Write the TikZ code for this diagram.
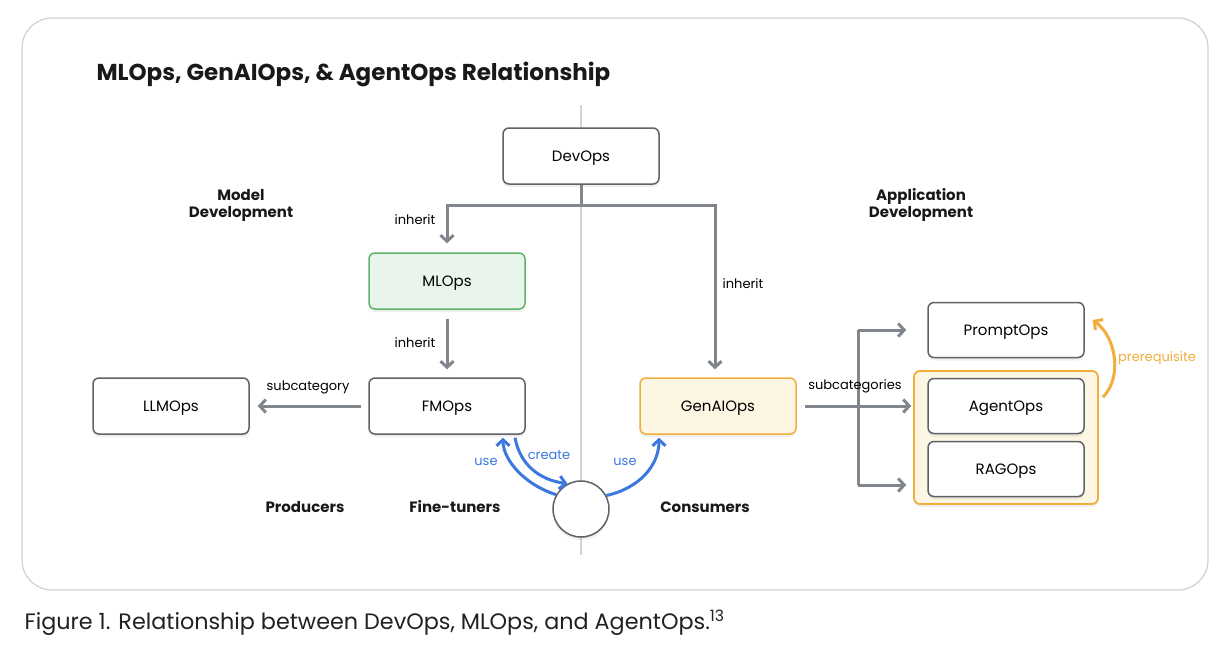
\documentclass[tikz,border=0pt]{standalone}
\usepackage{fontspec}
\setmainfont{Poppins}
\usetikzlibrary{arrows.meta,shadows,positioning}
\definecolor{bord}{HTML}{5F6368}
\definecolor{conn}{HTML}{80868B}
\definecolor{gblue}{HTML}{3C78E0}
\definecolor{gorange}{HTML}{F2AE3D}
\definecolor{ggreen}{HTML}{5DB56B}
\definecolor{gfill}{HTML}{E9F4EB}
\definecolor{yfill}{HTML}{FDF6E3}
\definecolor{frame}{HTML}{D0D0D0}
\definecolor{vline}{HTML}{D3D3D3}
\definecolor{captxt}{HTML}{202124}
\begin{document}
\begin{tikzpicture}[x=1pt,y=-1pt,
  box/.style={draw=bord,line width=1.5pt,rounded corners=6pt,fill=white,
    minimum width=156pt,minimum height=56pt,font=\fontsize{15}{18}\selectfont,text depth=0pt,
    drop shadow={opacity=0.12,shadow xshift=0pt,shadow yshift=-3pt}},
  cn/.style={draw=conn,line width=3pt},
  tip/.style={-{Straight Barb[length=6pt,width=13pt]}},
  lab/.style={font=\fontsize{13}{16}\selectfont,text=black},
  grp/.style={font=\fontsize{15}{17}\selectfont\bfseries,align=center,text=black!90},
  bl/.style={draw=gblue,line width=3pt,-{Straight Barb[length=6pt,width=13pt]}},
  bll/.style={font=\fontsize{13}{16}\selectfont,text=gblue},
]
\useasboundingbox (0,0) rectangle (1230,654);
\fill[white] (0,0) rectangle (1230,654);
\draw[frame,line width=1.2pt,rounded corners=30pt] (22,18) rectangle (1208,590);
\node[anchor=base west,font=\fontsize{23}{26}\selectfont\bfseries,text=black!90] (title) at (93,80) {MLOps, GenAIOps, \& AgentOps Relationship};
\node[anchor=base west,font=\fontsize{22.3}{25}\selectfont,text=captxt] (cap) at (21,629) {Figure 1. Relationship between DevOps, MLOps, and AgentOps.\textsuperscript{13}};
% divider
\draw[vline,line width=2pt] (581,105) -- (581,555);
% container
\node[draw=gorange,line width=1.8pt,fill=yfill,rounded corners=6pt,minimum width=184pt,minimum height=133pt,
  drop shadow={opacity=0.12,shadow xshift=0pt,shadow yshift=-3pt}] (cont) at (1006,437.5) {};
% nodes
\node[box] (dev) at (581,156) {DevOps};
\node[box,draw=ggreen,fill=gfill] (ml) at (447,281) {MLOps};
\node[box] (fm) at (447,406) {FMOps};
\node[box] (llm) at (171,406) {LLMOps};
\node[box,draw=gorange,fill=yfill] (gen) at (718,406) {GenAIOps};
\node[box,minimum height=55pt] (pr) at (1006,330) {PromptOps};
\node[box,minimum height=55pt] (ag) at (1006,406) {AgentOps};
\node[box,minimum height=55pt] (rag) at (1006,469) {RAGOps};
\node[circle,draw=bord,line width=1.5pt,fill=white,minimum size=56pt,
  drop shadow={opacity=0.12,shadow xshift=0pt,shadow yshift=-3pt}] (c) at (581,509) {};
% group labels
\node[grp] (md) at (241,205) {Model\\Development};
\node[grp] (ad) at (921,205) {Application\\Development};
\node[grp] (prod) at (305,507) {Producers};
\node[grp] (ft) at (455,507) {Fine-tuners};
\node[grp] (cons) at (705,507) {Consumers};
% DevOps tree
\coordinate (j) at (581,205);
\draw[cn] (dev.south) -- (j);
\draw[cn,tip,shorten >=9pt] (j) -| (ml.north);
\draw[cn,tip,shorten >=8pt] (j) -| ([xshift=-3pt]gen.north);
\node[lab] (l1) at (415,220) {inherit};
\node[lab] (l2) at (743,284) {inherit};
\draw[cn,tip,shorten <=9pt,shorten >=8pt] (ml.south) -- (fm.north);
\node[lab] (l3) at (415,343) {inherit};
\draw[cn,tip,shorten <=7pt,shorten >=8pt] (fm.west) -- (llm.east);
\node[lab] (l4) at (308,387) {subcategory};
% subcategories
\coordinate (b1) at (858,330);
\coordinate (b2) at (858,485);
\draw[cn] (b1) -- (b2);
\draw[cn,tip,shorten >=21pt] (b1) -- (pr.west |- b1);
\draw[cn,tip,shorten >=21pt] (b2) -- (rag.west |- b2);
\draw[cn,tip,shorten <=8pt,shorten >=16pt] (gen.east) -- (ag.west);
\node[lab] (l5) at (855,386) {subcategories};
% prerequisite
\draw[gorange,line width=3pt,-{Straight Barb[length=6pt,width=13pt]}]
  ([xshift=4pt,yshift=-27pt]cont.north east) .. controls (1122,378) and (1117,338) .. ([xshift=8pt,yshift=10pt]pr.east);
\node[font=\fontsize{13}{16}\selectfont,text=gorange] (l6) at (1157,358) {prerequisite};
% blue arrows
\draw[bl] (c.150) .. controls (525,485) and (503,460) .. ([xshift=56pt,yshift=-3pt]fm.south);
\draw[bl] ([xshift=68pt,yshift=-3pt]fm.south) .. controls (520,465) and (540,480) .. (c.118);
\draw[bl] (c.28) .. controls (640,488) and (659,465) .. ([xshift=-59pt,yshift=-3pt]gen.south);
\node[bll] (u1) at (486,462) {use};
\node[bll] (u2) at (549,455) {create};
\node[bll] (u3) at (625,462) {use};
\end{tikzpicture}
\end{document}
